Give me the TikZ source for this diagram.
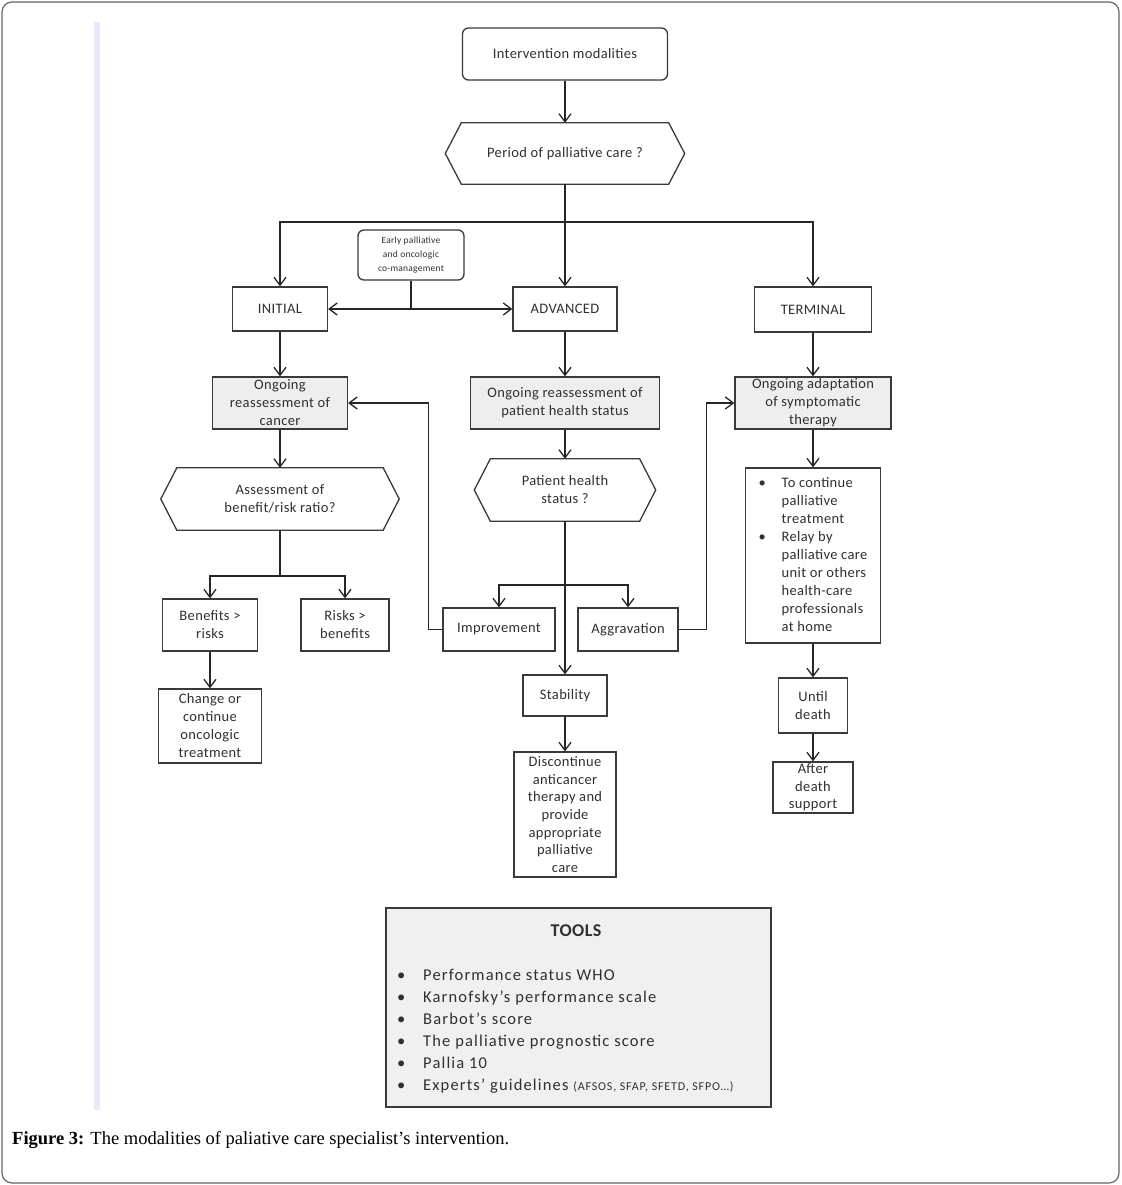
\documentclass[tikz,border=0pt]{standalone}
\usepackage{fontspec}
\setmainfont{Carlito}[LetterSpace=2.5]
\newfontfamily\capfont{Liberation Serif}
\usetikzlibrary{arrows.meta}
\definecolor{boxline}{HTML}{3A3A3A}
\definecolor{grayfill}{HTML}{EEEEEE}
\definecolor{toolsfill}{HTML}{F0F0F0}
\definecolor{sidebar}{HTML}{E8E8F6}
\definecolor{txt}{HTML}{303030}
\newcommand\hexframe[1]{\draw[hexline] (#1.west) -- ([xshift=16pt]#1.north west) -- ([xshift=-16pt]#1.north east) -- (#1.east) -- ([xshift=-16pt]#1.south east) -- ([xshift=16pt]#1.south west) -- cycle;}
\begin{document}
\begin{tikzpicture}[x=1pt,y=-1pt,
 base/.style={inner sep=0pt, align=center, text=txt, font=\fontsize{14.5}{18}\selectfont},
 box/.style={base, draw=boxline, line width=1.3pt, fill=white},
 gbox/.style={box, fill=grayfill},
 rbox/.style={box, rounded corners=6pt},
 hexnode/.style={base},
 hexline/.style={draw=boxline, line width=1.3pt, line join=miter},
 conn/.style={draw=black!85, line width=1.3pt},
 arr/.style={conn, -{Straight Barb[length=8pt,width=12pt]}},
 darr/.style={conn, {Straight Barb[length=8pt,width=12pt]}-{Straight Barb[length=8pt,width=12pt]}},
]
\useasboundingbox (0,0) rectangle (1121,1185);
\fill[white] (0,0) rectangle (1121,1185);
\draw[draw=black!60, line width=1.2pt, rounded corners=10pt] (2,2) rectangle (1119,1183);
\fill[sidebar] (94,22) rectangle (100,1110);

% top
\node[rbox, minimum width=205pt, minimum height=52pt] (intervention) at (565,54) {Intervention modalities};
\node[hexnode, minimum width=239pt, minimum height=61pt] (period) at (565,153.5) {Period of palliative care ?};
\hexframe{period}

\node[box, minimum width=95pt, minimum height=44pt] (initial) at (280,309) {INITIAL};
\node[box, minimum width=104pt, minimum height=44pt] (advanced) at (565,309) {ADVANCED};
\node[box, minimum width=117pt, minimum height=45pt] (terminal) at (813,309.5) {TERMINAL};
\node[rbox, minimum width=106pt, minimum height=50pt, font=\fontsize{9.5}{14}\selectfont] (early) at (411,255) {Early palliative\\and oncologic\\co-management};

% second row
\node[gbox, minimum width=135pt, minimum height=52pt] (cancer) at (280,403) {Ongoing\\reassessment of\\cancer};
\node[gbox, minimum width=189pt, minimum height=52pt] (reassess) at (565,403) {Ongoing reassessment of\\patient health status};
\node[gbox, minimum width=156pt, minimum height=52pt] (adapt) at (813,403) {Ongoing adaptation\\of symptomatic\\therapy};

\node[hexnode, minimum width=238pt, minimum height=62pt] (assess) at (280,499) {Assessment of\\benefit/risk ratio?};
\hexframe{assess}
\node[hexnode, minimum width=181pt, minimum height=62pt] (patient) at (565,490) {Patient health\\status ?};
\hexframe{patient}

\node[box, minimum width=95pt, minimum height=52pt] (benefits) at (210,625) {Benefits >\\risks};
\node[box, minimum width=88pt, minimum height=52pt] (risks) at (345,625) {Risks >\\benefits};
\node[box, minimum width=103pt, minimum height=74pt] (change) at (210,726) {Change or\\continue\\oncologic\\treatment};

\node[box, minimum width=112pt, minimum height=43pt] (improvement) at (499,629.5) {\raisebox{1pt}{Improvement}};
\node[box, minimum width=100pt, minimum height=43pt] (aggravation) at (628,629.5) {\raisebox{1pt}{Aggravation}};
\node[box, minimum width=84pt, minimum height=41pt] (stability) at (565,695.5) {Stability};
\node[box, minimum width=102pt, minimum height=125pt, font=\fontsize{14.5}{17.6}\selectfont] (discontinue) at (565,814.5) {Discontinue\\anticancer\\therapy and\\provide\\appropriate\\palliative\\care};

\node[box, minimum width=135pt, minimum height=175pt] (termlist) at (813,555.5) {\begin{tabular}{@{}p{23pt}@{}l@{}}
\textbullet & To continue\\ & palliative\\ & treatment\\
\textbullet & Relay by\\ & palliative care\\ & unit or others\\ & health-care\\ & professionals\\ & at home\end{tabular}};
\node[box, minimum width=69pt, minimum height=55pt] (until) at (813,705.5) {Until\\death};
\node[box, minimum width=80pt, minimum height=51pt, font=\fontsize{14.5}{17.5}\selectfont] (after) at (813,787.5) {After\\death\\support};

% tools
\node[box, fill=toolsfill, minimum width=385pt, minimum height=199pt] (tools) at (578.5,1007.5) {};
\node[base, font=\fontsize{18}{20}\selectfont\bfseries] (toolstitle) at (576,931) {TOOLS};
\node[base, anchor=north west, align=left, font=\fontsize{16.5}{22}\selectfont\addfontfeature{LetterSpace=7}] (toolslist) at (397,965) {\begin{tabular}{@{}p{26pt}@{}l@{}}
\textbullet & Performance status WHO\\
\textbullet & Karnofsky’s performance scale\\
\textbullet & Barbot’s score\\
\textbullet & The palliative prognostic score\\
\textbullet & Pallia 10\\
\textbullet & Experts’ guidelines {\fontsize{12}{14}\selectfont(AFSOS, SFAP, SFETD, SFPO…)}\end{tabular}};

% caption
\node[anchor=base west, inner sep=0pt, font=\capfont\fontsize{18.5}{20}\selectfont] (caption) at (12,1144) {\textbf{Figure 3:} The modalities of paliative care specialist’s intervention.};

% connectors
\coordinate (jtop) at (565,222);
\coordinate (ljn) at (280,576);
\coordinate (mjn) at (565,585);
\draw[arr] (intervention) -- (period);
\draw[arr] (period) -- (advanced);
\draw[arr] (jtop) -| (initial);
\draw[arr] (jtop) -| (terminal);
\draw[darr] (initial) -- (advanced);
\draw[conn] (early) -- (early |- initial);
\draw[arr] (initial) -- (cancer);
\draw[arr] (cancer) -- (assess);
\draw[conn] (assess) -- (ljn);
\draw[arr] (ljn) -| (benefits);
\draw[arr] (ljn) -| (risks);
\draw[arr] (benefits) -- (change);
\draw[arr] (advanced) -- (reassess);
\draw[arr] (reassess) -- (patient);
\draw[arr] (patient) -- (stability);
\draw[arr] (mjn) -| (improvement);
\draw[arr] (mjn) -| (aggravation);
\draw[arr] (improvement.west) -- ++(-14,0) |- (cancer.east);
\draw[arr] (aggravation.east) -- ++(28,0) |- (adapt.west);
\draw[arr] (stability) -- (discontinue);
\draw[arr] (terminal) -- (adapt);
\draw[arr] (adapt) -- (termlist);
\draw[arr] (termlist) -- (until);
\draw[arr] (until) -- (after);
\end{tikzpicture}
\end{document}
